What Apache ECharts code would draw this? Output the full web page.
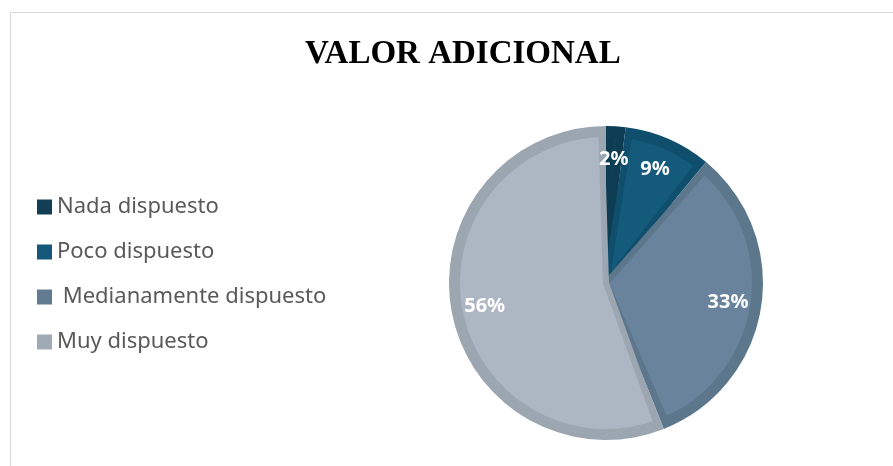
<!DOCTYPE html>
<html>
<head>
<meta charset="utf-8">
<script src="https://cdn.jsdelivr.net/npm/echarts@6/dist/echarts.min.js"></script>
<style>
html, body { margin: 0; padding: 0; background: #fff; }
.frame {
    position: absolute;
    left: 10px;
    top: 12px;
    width: 1000px;
    height: 1000px;
    border: 1.5px solid #d9d9d9;
}
.chart {
    position: absolute;
    left: 0;
    top: 0;
    width: 893px;
    height: 466px;
}
</style>
</head>
<body>
<div class="frame"></div>
<div class="chart" id="chart"></div>
<script>
var titleText = 'VALOR ADICIONAL';
var categories = ['Nada dispuesto', 'Poco dispuesto', ' Medianamente dispuesto', 'Muy dispuesto'];
var values = [2, 9, 33, 56];
var fillColors = ['#0f4159', '#135a7b', '#68839b', '#adb7c3'];
var edgeColors = ['#0d3c53', '#0f4e6d', '#5c768b', '#9ba6b1'];
var legendColors = ['#123f55', '#15577a', '#637b91', '#a0aab5'];

var myChart = echarts.init(document.getElementById('chart'));

// outer layer = darker rim of each slice, inner layer = the lighter fill
var rimData = categories.map(function (name, i) {
    return { name: name, value: values[i], itemStyle: { color: edgeColors[i] } };
});
var fillData = categories.map(function (name, i) {
    return {
        name: name,
        value: values[i],
        itemStyle: { color: fillColors[i], borderColor: edgeColors[i] }
    };
});
var labelData = categories.map(function (name, i) {
    return { name: name, value: values[i] };
});

var option = {
    animation: false,
    title: {
        text: titleText,
        left: 300,
        top: 33,
        textStyle: {
            fontFamily: 'Liberation Serif',
            fontWeight: 'bold',
            fontSize: 33,
            color: '#000'
        }
    },
    legend: {
        orient: 'vertical',
        left: 37,
        top: 196,
        padding: 0,
        icon: 'rect',
        itemWidth: 15,
        itemHeight: 15,
        itemGap: 23,
        data: categories.map(function (name, i) {
            return { name: name, itemStyle: { color: legendColors[i], borderWidth: 0 } };
        }),
        textStyle: {
            fontFamily: 'Noto Sans',
            fontSize: 22,
            lineHeight: 22,
            color: '#595959'
        }
    },
    series: [
        {
            type: 'pie',
            center: [606, 283],
            radius: 157,
            startAngle: 90,
            silent: true,
            label: { show: false },
            labelLine: { show: false },
            data: rimData
        },
        {
            type: 'pie',
            center: [606, 283],
            radius: 149,
            startAngle: 90,
            padAngle: 3.5,
            silent: true,
            label: { show: false },
            labelLine: { show: false },
            itemStyle: { borderWidth: 6 },
            data: fillData
        },
        {
            type: 'pie',
            center: [606, 283],
            radius: [88, 153],
            startAngle: 90,
            silent: true,
            itemStyle: { color: 'rgba(0,0,0,0)' },
            label: {
                show: true,
                position: 'inside',
                formatter: '{d}%',
                color: '#fff',
                fontFamily: 'Noto Sans',
                fontWeight: 'bold',
                fontSize: 20
            },
            labelLine: { show: false },
            data: labelData
        }
    ]
};
myChart.setOption(option);
</script>
</body>
</html>
